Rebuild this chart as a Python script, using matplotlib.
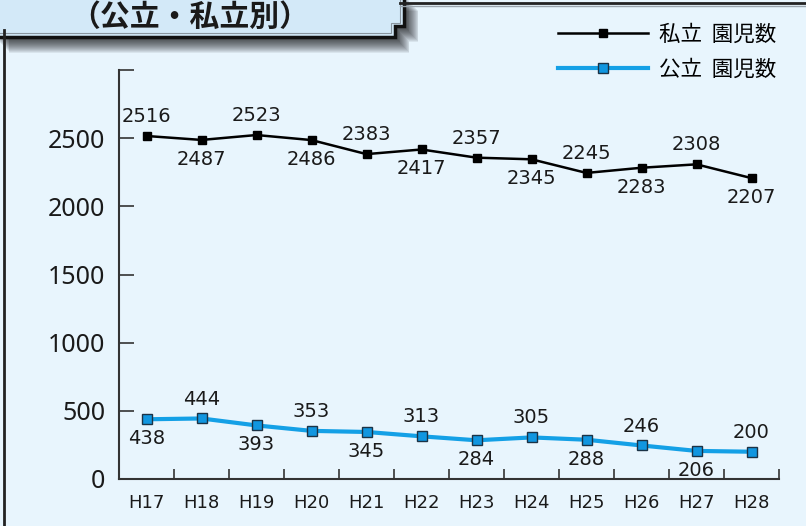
import numpy as np
import matplotlib.pyplot as plt
from matplotlib.patches import Polygon

# 年度ごとの園児数
years = ['H17', 'H18', 'H19', 'H20', 'H21', 'H22', 'H23', 'H24', 'H25', 'H26', 'H27', 'H28']
private_kids = [2516, 2487, 2523, 2486, 2383, 2417, 2357, 2345, 2245, 2283, 2308, 2207]
public_kids = [438, 444, 393, 353, 345, 313, 284, 305, 288, 246, 206, 200]
# ラベルを上(1)に置くか下(-1)に置くか
private_side = [1, -1, 1, -1, 1, -1, 1, -1, 1, -1, 1, -1]
public_side = [-1, 1, -1, 1, -1, 1, -1, 1, -1, 1, -1, 1]
y_ticks = [0, 500, 1000, 1500, 2000, 2500, 3000]
y_labels = ['0', '500', '1000', '1500', '2000', '2500', '']

W, H = 806, 526
bg = '#e8f5fd'
box_col = '#d3e9f8'
cjk = ['Noto Sans CJK JP', 'DejaVu Sans']

fig = plt.figure(figsize=(W / 100, H / 100), dpi=100)
fig.patch.set_facecolor(bg)

# decoration layer in pixel coordinates
deco = fig.add_axes([0, 0, 1, 1], zorder=0)
deco.set_xlim(0, W)
deco.set_ylim(H, 0)
deco.axis('off')

# panel border
deco.plot([4, 4], [30, H], color='#222222', lw=2)
deco.plot([400, W], [3, 3], color='#222222', lw=2)
deco.plot([400, W], [5.5, 5.5], color='#9aa4ad', lw=1)

# title box with notch and soft shadow
box_pts = [(-5, -5), (404, -5), (404, 26), (395, 26), (395, 37), (-5, 37)]
for d in range(16, 0, -1):
    shifted = [(x + d * 0.9, y + d) for x, y in box_pts]
    deco.add_patch(Polygon(shifted, closed=True, facecolor='black', edgecolor='none', alpha=0.065))
deco.add_patch(Polygon(box_pts, closed=True, facecolor=box_col, edgecolor='#111111', lw=2.5))
inner = [(-5, -5), (400, -5), (400, 23), (391, 23), (391, 33), (-5, 33)]
deco.add_patch(Polygon(inner, closed=True, facecolor='none', edgecolor='#8a96a0', lw=0.8))
deco.text(190, 16.5, '（公立・私立別）', ha='center', va='center', fontsize=21.5,
          fontweight='bold', family=cjk, color='#1a1a1a')

# main chart
ax = fig.add_axes([119 / W, 1 - 479 / H, 660 / W, 409 / H], zorder=2)
ax.set_facecolor('none')
x = np.arange(len(years))

ax.plot(x, private_kids, color='black', lw=1.8, marker='s', markersize=6,
        markerfacecolor='black', markeredgecolor='black', label='私立  園児数', zorder=4)
ax.plot(x, public_kids, color='#14a0e6', lw=3, marker='s', markersize=7,
        markerfacecolor='#1196e0', markeredgecolor='#1b3346', markeredgewidth=1,
        label='公立  園児数', zorder=4)

for xi, v, s in zip(x, private_kids, private_side):
    ax.annotate(str(v), (xi, v), xytext=(0, 14 * s), textcoords='offset points',
                ha='center', va='center', fontsize=14, color='#1a1a1a')
for xi, v, s in zip(x, public_kids, public_side):
    ax.annotate(str(v), (xi, v), xytext=(0, 14 * s), textcoords='offset points',
                ha='center', va='center', fontsize=14, color='#1a1a1a')

ax.set_xlim(-0.5, len(years) - 0.5)
ax.set_ylim(0, 3000)
for side in ['top', 'right']:
    ax.spines[side].set_visible(False)
for side in ['left', 'bottom']:
    ax.spines[side].set_color('#333333')
    ax.spines[side].set_linewidth(1.5)

ax.set_yticks(y_ticks)
ax.set_yticklabels(y_labels, fontsize=18, family='Noto Sans', color='#1a1a1a')
ax.tick_params(axis='y', direction='in', length=11, width=1.2, color='#333333', pad=10)

ax.set_xticks(x)
ax.set_xticklabels(years, fontsize=13, color='#1a1a1a')
ax.tick_params(axis='x', which='major', length=0, pad=11)
ax.set_xticks(np.arange(0.5, len(years), 1), minor=True)
ax.tick_params(axis='x', which='minor', direction='in', length=7.5, width=1.2, color='#333333')

leg = ax.legend(loc='upper right', bbox_to_anchor=(776 / W, 1 - 24 / H),
                bbox_transform=fig.transFigure, frameon=False,
                prop={'family': cjk, 'size': 15.5}, handlelength=4.2, handletextpad=0.5,
                labelspacing=0.6, borderpad=0, borderaxespad=0)

fig.savefig('out.png', dpi=100, facecolor=bg)
